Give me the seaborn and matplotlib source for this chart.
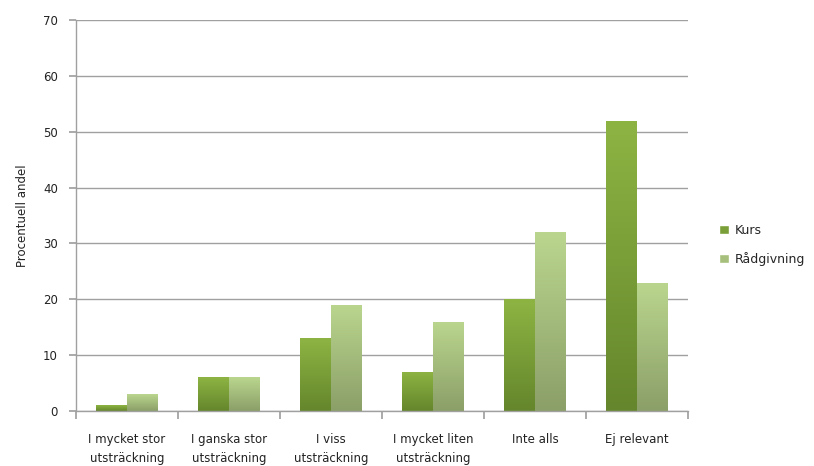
import numpy as np
import pandas as pd
import matplotlib
matplotlib.use("Agg")
import matplotlib.pyplot as plt
import seaborn as sns
from matplotlib.colors import LinearSegmentedColormap

categories = ["I mycket stor\nutsträckning", "I ganska stor\nutsträckning", "I viss\nutsträckning",
              "I mycket liten\nutsträckning", "Inte alls", "Ej relevant"]
kurs = [1, 6, 13, 7, 20, 52]
radgivning = [3, 6, 19, 16, 32, 23]
series = ["Kurs", "Rådgivning"]
y_ticks = [0, 10, 20, 30, 40, 50, 60, 70]

df = pd.DataFrame({
    "cat": categories * 2,
    "serie": [series[0]] * len(categories) + [series[1]] * len(categories),
    "val": kurs + radgivning,
})

sns.set_theme(style="white")
plt.rcParams['font.family'] = ['DejaVu Sans']

fig = plt.figure(figsize=(8.14, 4.66), dpi=100)
ax = fig.add_axes([76/814, 1-411/466, (688-76)/814, (411-20)/466])

mid_colors = {"Kurs": "#7a9e38", "Rådgivning": "#a6bf7c"}
sns.barplot(data=df, x="cat", y="val", hue="serie", palette=mid_colors,
            width=0.6, ax=ax, legend=True, saturation=1)

grad = {
    "Kurs": ("#8db443", "#65862c"),
    "Rådgivning": ("#bad68e", "#8b9f68"),
}
for container, s in zip(ax.containers, series):
    cmap = LinearSegmentedColormap.from_list(s, [grad[s][1], grad[s][0]])
    for p in container.patches:
        x0, y0 = p.get_x(), p.get_y()
        w, h = p.get_width(), p.get_height()
        if h <= 0:
            continue
        img = np.linspace(0, 1, 100).reshape(-1, 1)
        im = ax.imshow(img, cmap=cmap, origin="lower", aspect="auto",
                       extent=[x0, x0 + w, y0, y0 + h], zorder=p.get_zorder() + 0.1)
        im.set_clip_path(p)
        p.set_edgecolor("none")

ax.set_xlim(-0.5, len(categories) - 0.5)
ax.set_ylim(0, 70)
ax.set_yticks(y_ticks)
ax.yaxis.grid(True, color="#a0a0a0", linewidth=1)
ax.set_axisbelow(True)
for sp in ["top", "right"]:
    ax.spines[sp].set_visible(False)
for sp in ["left", "bottom"]:
    ax.spines[sp].set_color("#a0a0a0")
    ax.spines[sp].set_linewidth(1)

ax.set_xticks(np.arange(len(categories) + 1) - 0.5, minor=False)
ax.set_xticklabels([])
ax.set_xticks(np.arange(len(categories)), minor=True)
ax.set_xticklabels(categories, minor=True, fontsize=8.5, color="#222222", linespacing=1.6)
ax.tick_params(axis="x", which="major", length=6, color="#a0a0a0", direction="out", bottom=True)
ax.tick_params(axis="x", which="minor", length=0, pad=16)
ax.tick_params(axis="y", length=5, color="#a0a0a0", direction="out", left=True,
               labelsize=8.5, labelcolor="#222222", pad=8)
ax.set_xlabel("")
ax.set_ylabel("Procentuell andel", fontsize=8.5, color="#222222", labelpad=10)

leg = ax.legend(loc="center left", bbox_to_anchor=(712/814 - 76/814, 0), frameon=False,
                fontsize=9, handlelength=0.8, handleheight=0.8, handletextpad=0.4,
                labelspacing=1.2, bbox_transform=fig.transFigure)
leg.set_bbox_to_anchor((708/814, 1-245/466), transform=fig.transFigure)
for h, s in zip(leg.legend_handles, series):
    h.set_facecolor(mid_colors[s])

fig.savefig("out.png", dpi=100)
